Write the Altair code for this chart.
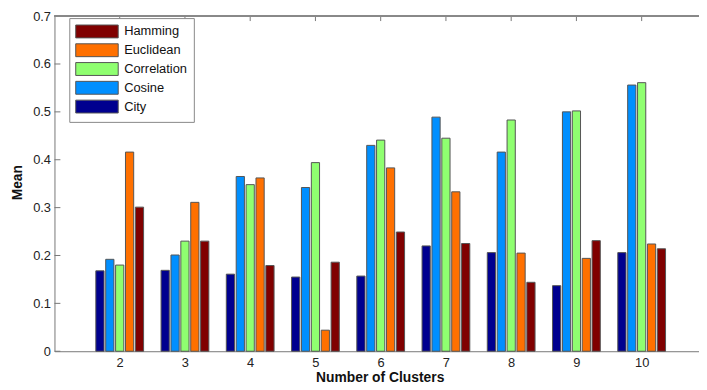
import altair as alt
import pandas as pd

clusters = [2, 3, 4, 5, 6, 7, 8, 9, 10]
series_order = ["City", "Cosine", "Correlation", "Euclidean", "Hamming"]
legend_order = ["Hamming", "Euclidean", "Correlation", "Cosine", "City"]
colors = {"Hamming": "#800000", "Euclidean": "#FF7000", "Correlation": "#8FFF70",
          "Cosine": "#008FFF", "City": "#00008F"}

city = [0.168, 0.169, 0.161, 0.155, 0.157, 0.220, 0.206, 0.137, 0.206]
cosine = [0.192, 0.201, 0.365, 0.342, 0.430, 0.489, 0.416, 0.500, 0.556]
correlation = [0.180, 0.230, 0.348, 0.394, 0.441, 0.445, 0.483, 0.502, 0.561]
euclidean = [0.416, 0.311, 0.362, 0.044, 0.383, 0.333, 0.205, 0.194, 0.224]
hamming = [0.301, 0.230, 0.179, 0.186, 0.249, 0.225, 0.144, 0.231, 0.214]

y_ticks = [0, 0.1, 0.2, 0.3, 0.4, 0.5, 0.6, 0.7]
x_ticks = clusters

values = {"City": city, "Cosine": cosine, "Correlation": correlation,
          "Euclidean": euclidean, "Hamming": hamming}
rows = []
for idx, name in enumerate(series_order):
    for c, v in zip(clusters, values[name]):
        rows.append({"cluster": c, "series": name, "idx": idx, "Mean": v})
df = pd.DataFrame(rows)

W, H = 652, 339
xscale = alt.Scale(domain=[1, 1 + W / 66.0], nice=False, zero=False)
yscale = alt.Scale(domain=[0, 0.7], nice=False)
font = "Liberation Sans"

bars = alt.Chart(df).transform_calculate(
    xs="datum.cluster + (datum.idx - 2) * 0.1515 - 0.063",
    xe="datum.cluster + (datum.idx - 2) * 0.1515 + 0.063",
).mark_bar(stroke="#555555", strokeWidth=1).encode(
    x=alt.X("xs:Q", scale=xscale,
            axis=alt.Axis(values=x_ticks, format="d", title="Number of Clusters",
                          tickSize=0, grid=False, labelPadding=5, titleX=329, titleY=27,
                          titleBaseline="middle", titleAlign="center")),
    x2="xe:Q",
    y=alt.Y("Mean:Q", scale=yscale,
            axis=alt.Axis(values=y_ticks, title="Mean", tickSize=0, grid=False,
                          labelPadding=4, format=".1~f", titleX=-37, titleY=168,
                          titleAngle=270, titleBaseline="middle", titleAlign="center")),
    y2=alt.datum(0),
    color=alt.Color("series:N",
                    scale=alt.Scale(domain=legend_order,
                                    range=[colors[s] for s in legend_order]),
                    legend=alt.Legend(title=None, orient="none", legendX=15, legendY=2,
                                      symbolType="M-3.07,-0.93L3.07,-0.93L3.07,0.93L-3.07,0.93Z",
                                      symbolSize=196, symbolOffset=14.5,
                                      symbolStrokeColor="#555555",
                                      symbolStrokeWidth=1, labelOffset=20,
                                      rowPadding=0, padding=6, fillColor="white",
                                      strokeColor="#888888", labelFontSize=13,
                                      labelFont=font, labelColor="#111111")),
)

ytick_df = pd.DataFrame({"t": y_ticks})
xtick_df = pd.DataFrame({"t": x_ticks})

ytick_rules = alt.Chart(ytick_df).mark_rule(color="#777777").encode(
    y=alt.Y("t:Q", scale=yscale), x=alt.value(0), x2=alt.value(6))
xtick_top = alt.Chart(xtick_df).mark_rule(color="#777777").encode(
    x=alt.X("t:Q", scale=xscale), y=alt.value(0), y2=alt.value(5))
top_line = alt.Chart(ytick_df).mark_rule(color="#888888").encode(
    x=alt.value(0), x2=alt.value(W), y=alt.value(0))

chart = alt.layer(bars, ytick_rules, xtick_top, top_line).properties(
    width=W, height=H,
    padding={"left": 47, "top": 6, "right": 0, "bottom": 37},
    autosize=alt.AutoSizeParams(type="none"),
).configure_view(stroke=None).configure_axis(
    labelFont=font, labelFontSize=13, labelColor="#222222",
    titleFont=font, titleFontSize=14, titleFontWeight="bold", titleColor="#111111",
    domainColor="#777777", domainWidth=1,
)

chart.save("out.html", embed_options={"renderer": "svg", "actions": False})
